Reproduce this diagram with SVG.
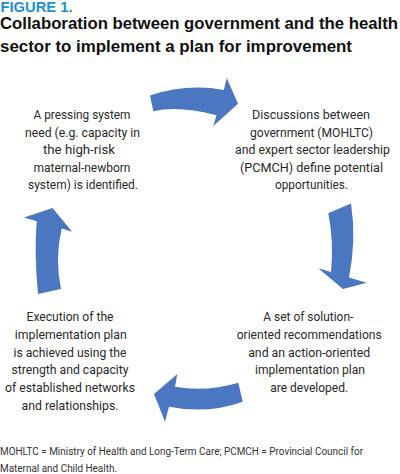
<svg xmlns="http://www.w3.org/2000/svg" width="400" height="474" viewBox="0 0 400 474">
<style>
.fig{font-family:"Liberation Sans",Arial,sans-serif;font-weight:bold;font-size:14px;fill:#1E8FD3}
.title{font-family:"Liberation Sans",Arial,sans-serif;font-weight:bold;font-size:16.5px;fill:#111}
.body{font-family:Roboto,"Liberation Sans",sans-serif;font-size:13.5px;fill:#2a2a2a;text-anchor:middle}
.note{font-family:Roboto,"Liberation Sans",sans-serif;font-size:10.5px;fill:#333}
.arrow{fill:#4A77BF}
</style>
<rect width="400" height="474" fill="#fff"/>
<g id="title">
<text class="fig" x="0.5" y="11.5" textLength="72" lengthAdjust="spacingAndGlyphs">FIGURE 1.</text>
<text class="title" x="0" y="29.3" textLength="398" lengthAdjust="spacingAndGlyphs">Collaboration between government and the health</text>
<text class="title" x="0" y="51.7" textLength="352" lengthAdjust="spacingAndGlyphs">sector to implement a plan for improvement</text>
</g>
<g id="connectors">
<path class="arrow" d="M150,95.5 Q186.5,83.2 223.8,90 L226.7,78 L238,103.7 L213.3,126 L216.5,115.3 Q178.4,105.3 153.3,111.3 Z"/>
<path class="arrow" d="M351,203.5 Q356.6,239.6 349,277.4 L366.7,282.7 L343,289 L318.3,268.3 L331,272.1 Q333.9,240.8 328.3,213.3 Z"/>
<path class="arrow" d="M238.3,382.7 Q206.5,392.3 175,386.7 L177.3,374 L154,394 L165,421.7 L169,406.7 Q207.6,414.4 242.7,401.7 Z"/>
<path class="arrow" d="M38,294 Q34,252.2 36.7,221.2 L24,217.5 L52.5,208 L72.2,231.7 L61.7,228.6 Q54.6,258.8 61,289 Z"/>
</g>
<g id="node-need">
<text class="body" x="82" y="119" textLength="97" lengthAdjust="spacingAndGlyphs">A pressing system</text>
<text class="body" x="82.5" y="136.6" textLength="115" lengthAdjust="spacingAndGlyphs">need (e.g. capacity in</text>
<text class="body" x="79" y="154.2" textLength="72" lengthAdjust="spacingAndGlyphs">the high-risk</text>
<text class="body" x="82" y="171.8" textLength="97" lengthAdjust="spacingAndGlyphs">maternal-newborn</text>
<text class="body" x="83" y="189.4" textLength="110" lengthAdjust="spacingAndGlyphs">system) is identified.</text>
</g>
<g id="node-discussions">
<text class="body" x="311" y="119" textLength="118" lengthAdjust="spacingAndGlyphs">Discussions between</text>
<text class="body" x="311.5" y="136.6" textLength="123" lengthAdjust="spacingAndGlyphs">government (MOHLTC)</text>
<text class="body" x="312.5" y="154.2" textLength="155" lengthAdjust="spacingAndGlyphs" style="font-size:12.5px">and expert sector leadership</text>
<text class="body" x="311.5" y="171.8" textLength="143" lengthAdjust="spacingAndGlyphs">(PCMCH) define potential</text>
<text class="body" x="311.5" y="189.4" textLength="73" lengthAdjust="spacingAndGlyphs">opportunities.</text>
</g>
<g id="node-recommendations">
<text class="body" x="308.3" y="320.7" textLength="90" lengthAdjust="spacingAndGlyphs">A set of solution-</text>
<text class="body" x="309.2" y="338.6" textLength="145" lengthAdjust="spacingAndGlyphs">oriented recommendations</text>
<text class="body" x="309.2" y="356.5" textLength="122" lengthAdjust="spacingAndGlyphs">and an action-oriented</text>
<text class="body" x="310" y="374.4" textLength="110" lengthAdjust="spacingAndGlyphs">implementation plan</text>
<text class="body" x="309.2" y="392.3" textLength="78" lengthAdjust="spacingAndGlyphs">are developed.</text>
</g>
<g id="node-execution">
<text class="body" x="70" y="320.7" textLength="87" lengthAdjust="spacingAndGlyphs">Execution of the</text>
<text class="body" x="70.8" y="338.6" textLength="112" lengthAdjust="spacingAndGlyphs">implementation plan</text>
<text class="body" x="70" y="356.5" textLength="113" lengthAdjust="spacingAndGlyphs">is achieved using the</text>
<text class="body" x="70" y="374.4" textLength="117" lengthAdjust="spacingAndGlyphs">strength and capacity</text>
<text class="body" x="70" y="392.3" textLength="130" lengthAdjust="spacingAndGlyphs">of established networks</text>
<text class="body" x="70" y="410.2" textLength="97" lengthAdjust="spacingAndGlyphs">and relationships.</text>
</g>
<g id="footnote">
<text class="note" x="0" y="455" textLength="363" lengthAdjust="spacingAndGlyphs" style="font-size:10px">MOHLTC = Ministry of Health and Long-Term Care; PCMCH = Provincial Council for</text>
<text class="note" x="0" y="472" textLength="117" lengthAdjust="spacingAndGlyphs">Maternal and Child Health.</text>
</g>
</svg>
